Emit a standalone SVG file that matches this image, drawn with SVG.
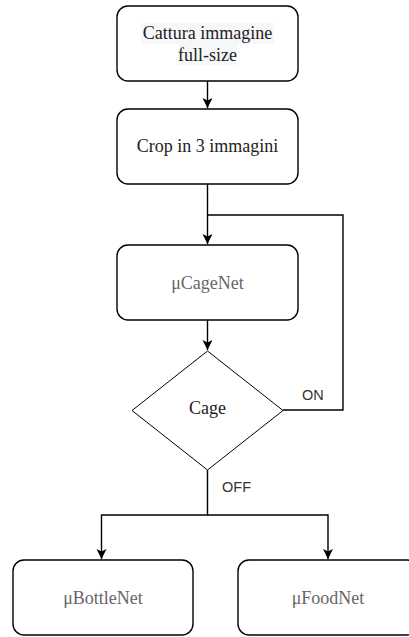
<svg xmlns="http://www.w3.org/2000/svg" width="409" height="637" viewBox="0 0 409 637">
  <defs>
    <marker id="arrow" markerUnits="userSpaceOnUse" markerWidth="12" markerHeight="12" refX="10" refY="5" orient="auto">
      <path d="M0,0 L10,5 L0,10 L2.5,5 Z" fill="#000"/>
    </marker>
    <style>
      .box { fill: #fff; stroke: #000; stroke-width: 1.4; }
      .dia { fill: #fff; stroke: #000; stroke-width: 1; }
      .lbl { font-family: "Liberation Serif", "Times New Roman", serif; font-size: 18px; text-anchor: middle; }
      .dark { fill: #222; }
      .grey { fill: #666; }
      .edge { fill: none; stroke: #000; stroke-width: 1.4; }
      .tag { font-family: "Liberation Sans", Arial, sans-serif; font-size: 14.5px; fill: #333; }
    </style>
  </defs>
  <rect width="409" height="637" fill="#fff"/>

  <g id="connectors">
    <path class="edge" d="M207.5,81 V108" marker-end="url(#arrow)"/>
    <path class="edge" d="M207.5,184 V244" marker-end="url(#arrow)"/>
    <path class="edge" d="M283,410 H343 V215 H207.5"/>
    <path class="edge" d="M207.5,320 V350" marker-end="url(#arrow)"/>
    <path class="edge" d="M207.5,470 V515 H101.5 V559" marker-end="url(#arrow)"/>
    <path class="edge" d="M207.5,515 H328 V559" marker-end="url(#arrow)"/>
    <text class="tag" x="302" y="400">ON</text>
    <text class="tag" x="222" y="492">OFF</text>
  </g>

  <g id="capture">
    <rect class="box" x="117" y="6" width="181" height="75" rx="11"/>
    <rect x="141" y="23" width="133" height="21" fill="#f6f7f8"/>
    <rect x="178" y="44" width="59" height="21" fill="#f6f7f8"/>
    <text class="lbl dark" x="207.5" y="39">Cattura immagine</text>
    <text class="lbl dark" x="207.5" y="61">full-size</text>
  </g>

  <g id="crop">
    <rect class="box" x="117" y="109" width="181" height="75" rx="11"/>
    <text class="lbl dark" x="207.5" y="152">Crop in 3 immagini</text>
  </g>

  <g id="cagenet">
    <rect class="box" x="117" y="245" width="181" height="75" rx="11"/>
    <text class="lbl grey" x="207.5" y="289">μCageNet</text>
  </g>

  <g id="cage">
    <polygon class="dia" points="207.5,351 283,410.5 207.5,470 132,410.5"/>
    <text class="lbl dark" x="207.5" y="414">Cage</text>
  </g>

  <g id="bottlenet">
    <rect class="box" x="13" y="560" width="180" height="75" rx="11"/>
    <text class="lbl grey" x="103" y="604">μBottleNet</text>
  </g>

  <g id="foodnet">
    <rect class="box" x="238" y="560" width="180" height="75" rx="11"/>
    <text class="lbl grey" x="328" y="604">μFoodNet</text>
  </g>
</svg>
